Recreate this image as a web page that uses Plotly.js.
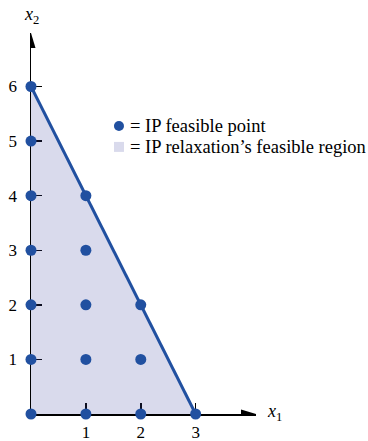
<!DOCTYPE html>
<html><head><meta charset="utf-8">
<script src="https://cdn.plot.ly/plotly-3.0.1.min.js"></script>
<style>html,body{margin:0;padding:0;background:#fff}</style>
</head><body><div id="chart" style="width:368px;height:441px"></div>
<script>
// IP feasible points
const ptsX = [0,0,0,0,0,0,0, 1,1,1,1,1, 2,2,2, 3];
const ptsY = [0,1,2,3,4,5,6, 0,1,2,3,4, 0,1,2, 0];
// LP relaxation region vertices
const regionX = [0, 0, 3, 0];
const regionY = [0, 6, 0, 0];
// constraint boundary
const lineX = [0, 3];
const lineY = [6, 0];
const xTicks = [1, 2, 3];
const yTicks = [1, 2, 3, 4, 5, 6];

const blue = '#2150a0';
const fillC = '#d9daec';
const fillT = 'rgba(65,70,160,0.2)';
const font = 'Liberation Serif, Times New Roman, serif';

const traces = [
  {x: regionX, y: regionY, type: 'scatter', mode: 'lines', fill: 'toself', fillcolor: fillT, line: {width: 0}, hoverinfo: 'skip', showlegend: false},
  {x: lineX, y: lineY, type: 'scatter', mode: 'lines', line: {color: blue, width: 3}, showlegend: false, cliponaxis: false},
  {x: ptsX, y: ptsY, type: 'scatter', mode: 'markers', marker: {color: blue, size: 11}, showlegend: false, cliponaxis: false}
];

const layout = {
  width: 368, height: 441,
  margin: {l: 31, r: 112, t: 33, b: 27},
  paper_bgcolor: '#fff', plot_bgcolor: '#fff',
  font: {family: font, size: 16, color: '#000'},
  showlegend: false,
  xaxis: {range: [0, 4.1], showgrid: false, zeroline: false, showline: true, linecolor: '#000', linewidth: 1.5,
          layer: 'below traces', ticks: 'inside', ticklen: 11, tickwidth: 1.5, tickcolor: '#000', ticklabelstandoff: 2,
          tickvals: xTicks, ticktext: xTicks.map(String), tickfont: {family: font, size: 17, color: '#000'}, fixedrange: true},
  yaxis: {range: [0, 6.98], showgrid: false, zeroline: false, showline: true, linecolor: '#000', linewidth: 1.5,
          layer: 'below traces', ticks: 'inside', ticklen: 11, tickwidth: 1.5, tickcolor: '#000', ticklabelstandoff: 9,
          tickvals: yTicks, ticktext: yTicks.map(String), tickfont: {family: font, size: 17, color: '#000'}, fixedrange: true},
  shapes: [
    {type: 'path', xref: 'x', yref: 'y', xsizemode: 'pixel', ysizemode: 'pixel', xanchor: 4.1, yanchor: 0,
     path: 'M0,0 L-15,4.5 L-15,-4.5 Z', fillcolor: '#000', line: {width: 0}},
    {type: 'path', xref: 'x', yref: 'y', xsizemode: 'pixel', ysizemode: 'pixel', xanchor: 0, yanchor: 6.98,
     path: 'M0,0 L-4.5,-15 L4.5,-15 Z', fillcolor: '#000', line: {width: 0}},
    {type: 'circle', xref: 'paper', yref: 'paper', xsizemode: 'pixel', ysizemode: 'pixel', xanchor: 0.391, yanchor: 0.756,
     x0: -5, x1: 5, y0: -5, y1: 5, fillcolor: blue, line: {width: 0}},
    {type: 'rect', xref: 'paper', yref: 'paper', xsizemode: 'pixel', ysizemode: 'pixel', xanchor: 0.391, yanchor: 0.701,
     x0: -5, x1: 5, y0: -5, y1: 5, fillcolor: fillC, line: {width: 0}}
  ],
  annotations: [
    {xref: 'paper', yref: 'paper', x: 0.431, y: 0.756, xanchor: 'left', yanchor: 'middle', showarrow: false,
     text: '= IP feasible point', font: {family: font, size: 18.5, color: '#000'}},
    {xref: 'paper', yref: 'paper', x: 0.431, y: 0.701, xanchor: 'left', yanchor: 'middle', showarrow: false,
     text: '= IP relaxation’s feasible region', font: {family: font, size: 18.5, color: '#000'}},
    {xref: 'x', yref: 'y', x: 4.1, y: 0, xanchor: 'left', yanchor: 'middle', xshift: 9, yshift: 2, showarrow: false,
     text: '<i>x</i><sub>1</sub>', font: {family: font, size: 18, color: '#000'}},
    {xref: 'x', yref: 'y', x: 0, y: 6.98, xanchor: 'center', yanchor: 'bottom', yshift: 4, showarrow: false,
     text: '<i>x</i><sub>2</sub>', font: {family: font, size: 18, color: '#000'}}
  ]
};
Plotly.newPlot('chart', traces, layout, {displayModeBar: false, staticPlot: true});
</script></body></html>
